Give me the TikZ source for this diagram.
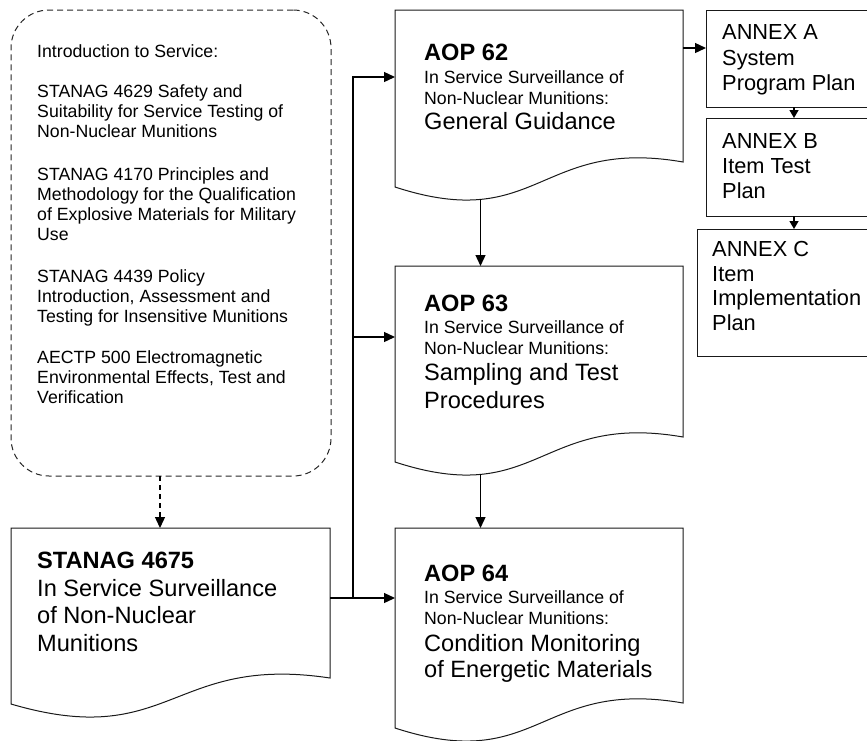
\documentclass[tikz,border=0pt]{standalone}
\usepackage{fontspec}
\setmainfont{Liberation Sans}
\usetikzlibrary{arrows.meta,calc}

\begin{document}
\begin{tikzpicture}[x=1pt,y=-1pt,
  frame/.style={draw=black!90, line width=1pt},
  area/.style={inner sep=0pt, outer sep=0pt, anchor=north west},
  link/.style={draw=black, line width=1.3pt, -{Triangle[length=11pt,width=10pt]}},
  shortlink/.style={draw=black, line width=1.3pt, -{Triangle[length=8pt,width=9pt]}},
  smalltxt/.style={font=\fontsize{17.7}{20}\selectfont, anchor=base west, inner sep=0pt},
  bigtxt/.style={font=\fontsize{23.6}{27}\selectfont, anchor=base west, inner sep=0pt},
  titletxt/.style={font=\fontsize{23.6}{27}\selectfont\bfseries, anchor=base west, inner sep=0pt},
  annextxt/.style={font=\fontsize{21.8}{25}\selectfont, anchor=base west, inner sep=0pt},
]
\useasboundingbox (0,0) rectangle (867,740);

% ---- dashed introduction panel ----
\node[area, draw=black!85, line width=1pt, dash pattern=on 6pt off 4pt,
      rounded corners=38pt, minimum width=320pt, minimum height=466pt] (intro) at (11,10) {};
\foreach \yy/\txt [count=\k] in {
   57/Introduction to Service:,
   97/STANAG 4629 Safety and,
   117/Suitability for Service Testing of,
   137/Non-Nuclear Munitions,
   180/STANAG 4170 Principles and,
   200/Methodology for the Qualification,
   220/of Explosive Materials for Military,
   240/Use,
   282/STANAG 4439 Policy,
   302/{Introduction, Assessment and},
   322/Testing for Insensitive Munitions,
   363/AECTP 500 Electromagnetic,
   383/{Environmental Effects, Test and},
   403/Verification}
  \node[smalltxt] (intro-\k) at (37,\yy) {\txt};

% ---- document-shaped boxes (wavy bottom edge) ----
\node[area, minimum width=319pt, minimum height=176pt] (stanag) at (11,528) {};
\draw[frame] (stanag.south west)
  .. controls ($(stanag.south west)+(160,47)$) and ($(stanag.south west)+(160,-50)$)
  .. ($(stanag.south east)+(0,-26)$) -- (stanag.north east) -- (stanag.north west) -- cycle;

\node[area, minimum width=288pt, minimum height=177pt] (aop62) at (395,10) {};
\draw[frame] (aop62.south west)
  .. controls ($(aop62.south west)+(144,47)$) and ($(aop62.south west)+(144,-50)$)
  .. ($(aop62.south east)+(0,-25)$) coordinate[pos=0.25] (aop62-foot)
  -- (aop62.north east) -- (aop62.north west) -- cycle;

\node[area, minimum width=288pt, minimum height=196pt] (aop63) at (395,266) {};
\draw[frame] (aop63.south west)
  .. controls ($(aop63.south west)+(144,47)$) and ($(aop63.south west)+(144,-50)$)
  .. ($(aop63.south east)+(0,-25)$) coordinate[pos=0.25] (aop63-foot)
  -- (aop63.north east) -- (aop63.north west) -- cycle;

\node[area, minimum width=288pt, minimum height=200pt] (aop64) at (395,528) {};
\draw[frame] (aop64.south west)
  .. controls ($(aop64.south west)+(144,47)$) and ($(aop64.south west)+(144,-50)$)
  .. ($(aop64.south east)+(0,-25)$)
  -- (aop64.north east) -- (aop64.north west) -- cycle;

% ---- annex boxes ----
\node[area, frame, minimum width=162pt, minimum height=97pt] (annexA) at (706,10) {};
\node[area, frame, minimum width=162pt, minimum height=98pt] (annexB) at (706,118) {};
\node[area, frame, minimum width=171pt, minimum height=127pt] (annexC) at (697,229) {};

% ---- box texts ----
\node[titletxt] (stanag-t1) at (37,568) {STANAG 4675};
\node[bigtxt]   (stanag-t2) at (37,596) {In Service Surveillance};
\node[bigtxt]   (stanag-t3) at (37,623) {of Non-Nuclear};
\node[bigtxt]   (stanag-t4) at (37,651) {Munitions};

\node[titletxt] (aop62-t1) at (424,60)  {AOP 62};
\node[smalltxt] (aop62-t2) at (424,83)  {In Service Surveillance of};
\node[smalltxt] (aop62-t3) at (424,104) {Non-Nuclear Munitions:};
\node[bigtxt]   (aop62-t4) at (424,129) {General Guidance};

\node[titletxt] (aop63-t1) at (424,311) {AOP 63};
\node[smalltxt] (aop63-t2) at (424,333) {In Service Surveillance of};
\node[smalltxt] (aop63-t3) at (424,354) {Non-Nuclear Munitions:};
\node[bigtxt]   (aop63-t4) at (424,380) {Sampling and Test};
\node[bigtxt]   (aop63-t5) at (424,408) {Procedures};

\node[titletxt] (aop64-t1) at (424,581) {AOP 64};
\node[smalltxt] (aop64-t2) at (424,603) {In Service Surveillance of};
\node[smalltxt] (aop64-t3) at (424,624) {Non-Nuclear Munitions:};
\node[bigtxt]   (aop64-t4) at (424,651) {Condition Monitoring};
\node[bigtxt]   (aop64-t5) at (424,677) {of Energetic Materials};

\node[annextxt] (annexA-t1) at (722,39) {ANNEX A};
\node[annextxt] (annexA-t2) at (722,65) {System};
\node[annextxt] (annexA-t3) at (722,90) {Program Plan};

\node[annextxt] (annexB-t1) at (722,148) {ANNEX B};
\node[annextxt] (annexB-t2) at (722,173) {Item Test};
\node[annextxt] (annexB-t3) at (722,198) {Plan};

\node[annextxt] (annexC-t1) at (712,256) {ANNEX C};
\node[annextxt] (annexC-t2) at (712,281) {Item};
\node[annextxt] (annexC-t3) at (712,305) {Implementation};
\node[annextxt] (annexC-t4) at (712,330) {Plan};

% ---- connectors ----
\coordinate (drop) at ($(stanag.north west)+(149,0)$);
\draw[link, dash pattern=on 5pt off 4pt] (drop |- intro.south) -- (drop);

\coordinate (out) at ($(stanag.north east)+(0,70)$);
\coordinate (fork) at ($(out)+(23,0)$);
\draw[link] (out) -- (out -| aop64.west);
\draw[link, line join=miter] (fork) |- ($(aop62.north west)+(0,67)$);
\draw[link, line join=miter] (fork) |- ($(aop63.north west)+(0,71)$);

\draw[link] (aop62-foot) -- (aop62-foot |- aop63.north);
\draw[link] (aop63-foot) -- (aop63-foot |- aop64.north);

\draw[link] ($(aop62.north east)+(0,38)$) -- ($(annexA.north west)+(0,38)$);
\draw[shortlink] ($(annexA.south west)+(88,0)$) -- ($(annexB.north west)+(88,0)$);
\coordinate (bc) at ($(annexB.south west)+(88,0)$);
\draw[shortlink] (bc) -- (bc |- annexC.north);
\end{tikzpicture}
\end{document}
